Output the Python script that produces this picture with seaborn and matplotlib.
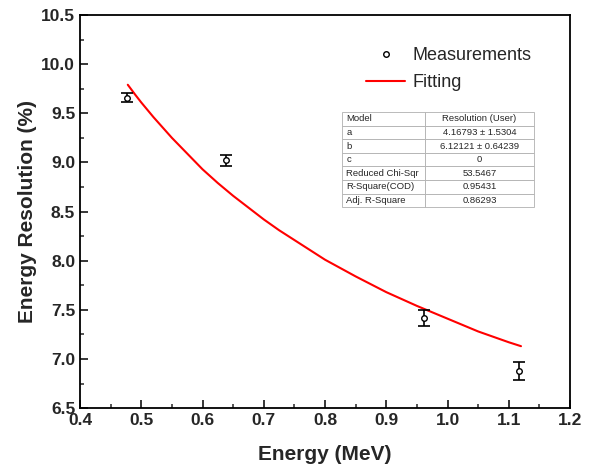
import numpy as np
import pandas as pd
import matplotlib
matplotlib.use("Agg")
import matplotlib.pyplot as plt
import seaborn as sns
from matplotlib.ticker import MultipleLocator
from matplotlib.lines import Line2D

sns.set_theme(style="ticks")
plt.rcParams['font.family'] = ['Liberation Sans', 'DejaVu Sans']

energy = [0.477, 0.638, 0.961, 1.117]
resolution = [9.66, 9.02, 7.42, 6.88]
err = [0.05, 0.06, 0.08, 0.09]

# fitted curve
fit_energy = [0.478, 0.49, 0.50, 0.52, 0.55, 0.575, 0.60, 0.625, 0.65, 0.675, 0.70, 0.725, 0.75,
              0.80, 0.85, 0.90, 0.95, 1.00, 1.05, 1.10, 1.12]
fit_res = [9.79, 9.69, 9.61, 9.46, 9.25, 9.09, 8.93, 8.79, 8.66, 8.54, 8.42, 8.31, 8.21,
           8.01, 7.84, 7.68, 7.54, 7.41, 7.28, 7.17, 7.13]

# fit report table
row_names = ['Model', 'a', 'b', 'c', 'Reduced Chi-Sqr', 'R-Square(COD)', 'Adj. R-Square']
row_vals = ['Resolution (User)', '4.16793 \u00b1 1.5304', '6.12121 \u00b1 0.64239', '0',
            '53.5467', '0.95431', '0.86293']

df = pd.DataFrame({'Energy': energy, 'Resolution': resolution, 'err': err})
df_fit = pd.DataFrame({'Energy': fit_energy, 'Resolution': fit_res})

fig = plt.figure(figsize=(5.9, 4.68), dpi=100)
ax = fig.add_axes([0.1356, 0.128, 0.8305, 0.84])

sns.lineplot(data=df_fit, x='Energy', y='Resolution', ax=ax, color='red', linewidth=1.5)
ax.errorbar(df['Energy'], df['Resolution'], yerr=df['err'], fmt='none',
            ecolor='black', elinewidth=1.2, capsize=4, capthick=1.2, zorder=3)
sns.scatterplot(data=df, x='Energy', y='Resolution', ax=ax, marker='o', s=16,
                facecolor='white', edgecolor='black', linewidth=1.0, zorder=4)

ax.set_xlim(0.4, 1.2)
ax.set_ylim(6.5, 10.5)
ax.xaxis.set_major_locator(MultipleLocator(0.1))
ax.xaxis.set_minor_locator(MultipleLocator(0.05))
ax.yaxis.set_major_locator(MultipleLocator(0.5))
ax.yaxis.set_minor_locator(MultipleLocator(0.25))
ax.tick_params(which='major', direction='in', length=6, width=1.3, labelsize=12.5)
ax.tick_params(which='minor', direction='in', length=3, width=1.1)
ax.xaxis.set_major_formatter(matplotlib.ticker.FormatStrFormatter('%.1f'))
ax.yaxis.set_major_formatter(matplotlib.ticker.FormatStrFormatter('%.1f'))
for lab in ax.get_xticklabels() + ax.get_yticklabels():
    lab.set_fontweight('bold')
for sp in ax.spines.values():
    sp.set_linewidth(1.3)
    sp.set_color('black')

ax.set_xlabel('Energy (MeV)', fontsize=15, fontweight='bold', labelpad=12)
ax.set_ylabel('Energy Resolution (%)', fontsize=15, fontweight='bold', labelpad=3)

handles = [Line2D([], [], marker='o', color='black', markerfacecolor='white', markersize=4,
                  linestyle='none', markeredgewidth=1.0),
           Line2D([], [], color='red', linewidth=1.5)]
ax.legend(handles, ['Measurements', 'Fitting'], loc='upper left', bbox_to_anchor=(0.55, 0.96),
          frameon=False, fontsize=13, handlelength=2.2, handletextpad=0.4, labelspacing=0.55)

cell_text = [[n, v] for n, v in zip(row_names, row_vals)]
tbl = ax.table(cellText=cell_text, colWidths=[0.43, 0.57], cellLoc='left',
               bbox=[0.535, 0.511, 0.392, 0.242])
tbl.auto_set_font_size(False)
tbl.set_fontsize(6.8)
for (r, c), cell in tbl.get_celld().items():
    cell.set_edgecolor('#b0b0b0')
    cell.set_linewidth(0.6)
    cell.PAD = 0.05
    if c == 1:
        cell.get_text().set_ha('center')
        cell._loc = 'center'

fig.savefig('out.png', dpi=100)
